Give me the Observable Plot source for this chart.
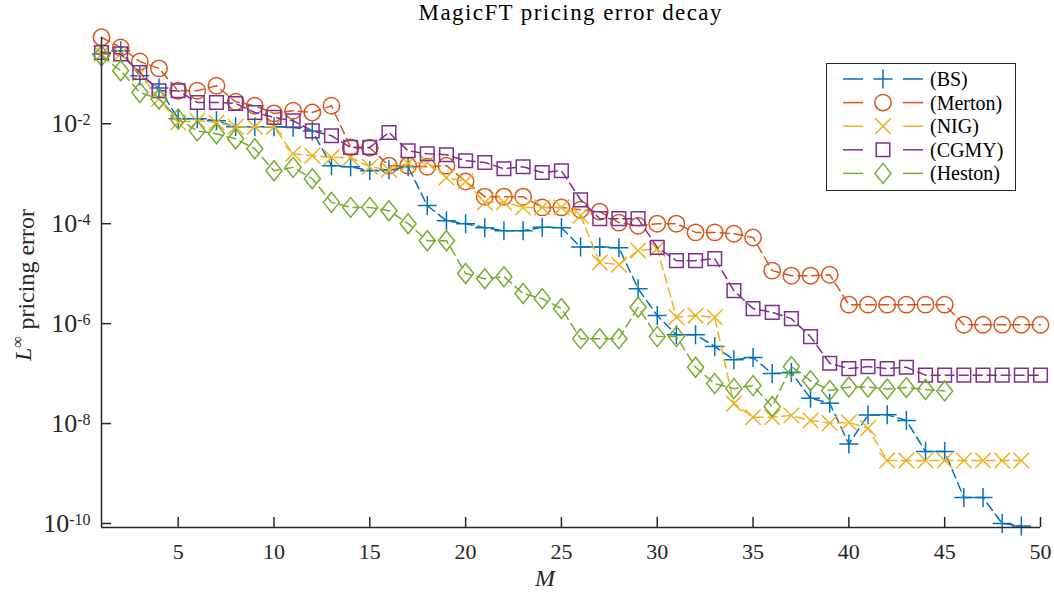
<!DOCTYPE html>
<html><head><meta charset="utf-8">
<script src="https://cdn.jsdelivr.net/npm/d3@7"></script>
<script src="https://cdn.jsdelivr.net/npm/@observablehq/plot@0.6"></script>
<style>
body{margin:0;background:#fff;}
#chart{width:1054px;height:592px;}
svg text{font-family:"Liberation Serif","Times New Roman",serif;}
</style></head><body><div id="chart"></div>
<script>
const seriesNames = ["(BS)", "(Merton)", "(NIG)", "(CGMY)", "(Heston)"];
const colors = ["#0072BD", "#D95319", "#EDB120", "#7E2F8E", "#77AC30"];
const xTicks = [5, 10, 15, 20, 25, 30, 35, 40, 45, 50];
const yTicks = [1e-2, 1e-4, 1e-6, 1e-8, 1e-10];

const bs = [0.25, 0.29, 0.091, 0.052, 0.0126, 0.0126, 0.0115, 0.0087, 0.0087, 0.0087,
  0.0085, 0.0072, 0.00145, 0.00138, 0.00115, 0.0012, 0.00138, 2.3e-4, 1.15e-4, 1.0e-4,
  8.3e-5, 7.2e-5, 7.2e-5, 8.5e-5, 8.3e-5, 3.4e-5, 3.4e-5, 3.3e-5, 5.0e-6, 1.45e-6,
  6.0e-7, 6.0e-7, 3.5e-7, 1.9e-7, 2.1e-7, 1.0e-7, 1.05e-7, 3.2e-8, 2.55e-8, 3.9e-9,
  1.48e-8, 1.5e-8, 1.15e-8, 2.75e-9, 2.75e-9, 3.3e-10, 3.3e-10, 1.0e-10, 8.9e-11];
const merton = [0.537, 0.336, 0.176, 0.128, 0.0457, 0.0457, 0.0575, 0.0275, 0.0229, 0.0161,
  0.0182, 0.0168, 0.0229, 0.00336, 0.00331, 0.00145, 0.00145, 0.00138, 0.00145, 7.0e-4,
  3.47e-4, 3.47e-4, 3.47e-4, 2.12e-4, 2.12e-4, 1.9e-4, 1.74e-4, 1.05e-4, 9.1e-5, 1.0e-4,
  1.0e-4, 6.7e-5, 6.7e-5, 6.3e-5, 5.3e-5, 1.15e-5, 9.1e-6, 9.1e-6, 9.5e-6, 2.4e-6,
  2.4e-6, 2.4e-6, 2.4e-6, 2.4e-6, 2.4e-6, 9.5e-7, 9.5e-7, 9.5e-7, 9.5e-7, 9.5e-7];
const nig = [0.25, 0.25, 0.1, 0.0316, 0.0106, 0.0115, 0.0106, 0.0087, 0.0087, 0.0087,
  0.00251, 0.00229, 0.00212, 0.00209, 0.00138, 0.0012, 0.00161, 0.00168, 8.4e-4, 7.0e-4,
  2.67e-4, 2.67e-4, 2.12e-4, 2.12e-4, 2.12e-4, 1.45e-4, 1.68e-5, 1.51e-5, 2.9e-5, 3.16e-5,
  1.34e-6, 1.45e-6, 1.34e-6, 2.5e-8, 1.34e-8, 1.34e-8, 1.45e-8, 1.15e-8, 1.02e-8, 1.05e-8,
  8.1e-9, 1.82e-9, 1.82e-9, 1.82e-9, 1.82e-9, 1.82e-9, 1.82e-9, 1.82e-9, 1.82e-9];
const cgmy = [0.267, 0.25, 0.106, 0.0457, 0.0457, 0.0267, 0.0267, 0.0255, 0.0168, 0.0134,
  0.0115, 0.0072, 0.00575, 0.00336, 0.00336, 0.0067, 0.00288, 0.00251, 0.0024, 0.00182,
  0.00168, 0.00126, 0.00138, 0.00106, 0.00115, 3.0e-4, 1.26e-4, 1.26e-4, 1.26e-4, 3.36e-5,
  1.82e-5, 1.82e-5, 2.0e-5, 4.57e-6, 2.0e-6, 1.68e-6, 1.26e-6, 5.5e-7, 1.61e-7, 1.26e-7,
  1.38e-7, 1.26e-7, 1.34e-7, 9.3e-8, 9.3e-8, 9.3e-8, 9.3e-8, 9.3e-8, 9.3e-8, 9.3e-8];
const heston = [0.229, 0.115, 0.0423, 0.0312, 0.0124, 0.0072, 0.0063, 0.005, 0.00316, 0.00115,
  0.00134, 7.9e-4, 2.67e-4, 2.12e-4, 2.12e-4, 1.82e-4, 1.0e-4, 4.57e-5, 4.57e-5, 1.01e-5,
  7.9e-6, 8.7e-6, 4.0e-6, 3.16e-6, 2.0e-6, 5.0e-7, 5.0e-7, 5.0e-7, 2.12e-6, 5.5e-7,
  5.5e-7, 1.34e-7, 6.3e-8, 5.0e-8, 5.75e-8, 2.19e-8, 1.38e-7, 7.2e-8, 4.57e-8, 5.4e-8,
  5.4e-8, 4.9e-8, 5.25e-8, 4.8e-8, 4.5e-8];
const seriesValues = [bs, merton, nig, cgmy, heston];

// marker shapes (MATLAB style: + o x s d)
function sym(fn) { return {draw(ctx, size) { fn(ctx, Math.sqrt(size / Math.PI)); }}; }
const symbols = [
  sym((c, r) => { c.moveTo(-r, 0); c.lineTo(r, 0); c.moveTo(0, -r); c.lineTo(0, r); }),
  sym((c, r) => { c.moveTo(r, 0); c.arc(0, 0, r, 0, 2 * Math.PI); }),
  sym((c, r) => { c.moveTo(-r, -r); c.lineTo(r, r); c.moveTo(-r, r); c.lineTo(r, -r); }),
  sym((c, r) => { c.rect(-r, -r, 2 * r, 2 * r); c.closePath(); }),
  sym((c, r) => { c.moveTo(0, -1.25 * r); c.lineTo(r, 0); c.lineTo(0, 1.25 * r); c.lineTo(-r, 0); c.closePath(); })
];
const radii = [9.5, 8.2, 7.8, 6.8, 8];

const tables = seriesValues.map((vals, i) => vals.map((v, j) => ({M: j + 1, err: v, s: seriesNames[i]})));

const yMin = Math.pow(10, -10.08), yMax = Math.pow(10, -0.274);
const axisColor = "#262626";

const marks = [];
tables.forEach((t, i) => {
  marks.push(Plot.line(t, {x: "M", y: "err", stroke: colors[i], strokeWidth: 1.5, strokeDasharray: "9,5"}));
  marks.push(Plot.dot(t, {x: "M", y: "err", symbol: symbols[i], r: radii[i], fill: "none", stroke: colors[i], strokeWidth: 1.5}));
});
marks.push(Plot.ruleX([1], {stroke: axisColor, strokeWidth: 1.5}));
marks.push(Plot.ruleY([yMin], {stroke: axisColor, strokeWidth: 1.5}));
marks.push(Plot.axisX({ticks: xTicks, tickSize: -10, tickPadding: 26, stroke: axisColor, strokeWidth: 1.5, fontSize: 22, color: axisColor, label: null}));
marks.push(Plot.axisY({ticks: yTicks, tickSize: -10, tickPadding: 21, stroke: axisColor, strokeWidth: 1.5, fontSize: 26, color: axisColor, label: null,
  tickFormat: d => "10^" + Math.round(Math.log10(d))}));

const svg = Plot.plot({
  width: 1054, height: 592,
  marginLeft: 101, marginRight: 14, marginTop: 37, marginBottom: 65,
  style: {background: "#fff", overflow: "visible"},
  x: {domain: [1, 50]},
  y: {type: "log", domain: [yMin, yMax]},
  marks
});
document.getElementById("chart").appendChild(svg);

const NS = "http://www.w3.org/2000/svg";
// superscript exponents on y tick labels
svg.querySelectorAll('g[aria-label="y-axis tick label"] text').forEach(t => {
  const parts = t.textContent.split("^");
  t.textContent = "";
  const a = document.createElementNS(NS, "tspan"); a.textContent = parts[0];
  const b = document.createElementNS(NS, "tspan"); b.textContent = parts[1];
  b.setAttribute("dy", "-0.45em"); b.setAttribute("font-size", "16");
  t.appendChild(a); t.appendChild(b);
});

const s = d3.select(svg);
// title
s.append("text").attr("x", 570).attr("y", 20).attr("text-anchor", "middle")
  .attr("font-size", 23).attr("fill", "#000").attr("textLength", 303).attr("lengthAdjust", "spacing")
  .text("MagicFT pricing error decay");
// x label
s.append("text").attr("x", 545).attr("y", 586).attr("text-anchor", "middle")
  .attr("font-size", 24).attr("font-style", "italic").attr("fill", axisColor).text("M");
// y label
const yl = s.append("text").attr("transform", "translate(31,285) rotate(-90)")
  .attr("text-anchor", "middle").attr("font-size", 24).attr("fill", axisColor);
yl.append("tspan").attr("font-style", "italic").text("L");
yl.append("tspan").attr("dy", "-0.45em").attr("font-size", 17).text("∞");
yl.append("tspan").attr("dy", "0.45em").text(" pricing error");

// legend
const lg = s.append("g").attr("text-anchor", "start");
lg.append("rect").attr("x", 826.5).attr("y", 63.5).attr("width", 189).attr("height", 127)
  .attr("fill", "#fff").attr("stroke", axisColor).attr("stroke-width", 1);
seriesNames.forEach((name, i) => {
  const y = 79 + i * 23.6;
  lg.append("line").attr("x1", 843).attr("x2", 863).attr("y1", y).attr("y2", y)
    .attr("stroke", colors[i]).attr("stroke-width", 1.5);
  lg.append("line").attr("x1", 903).attr("x2", 923).attr("y1", y).attr("y2", y)
    .attr("stroke", colors[i]).attr("stroke-width", 1.5);
  lg.append("path").attr("transform", `translate(883,${y})`)
    .attr("d", d3.symbol(symbols[i], Math.PI * radii[i] * radii[i])())
    .attr("fill", "none").attr("stroke", colors[i]).attr("stroke-width", 1.5);
  lg.append("text").attr("x", 930).attr("y", y).attr("dy", "0.35em").attr("text-anchor", "start")
    .attr("font-size", 20).attr("fill", "#000").text(name);
});
</script></body></html>
